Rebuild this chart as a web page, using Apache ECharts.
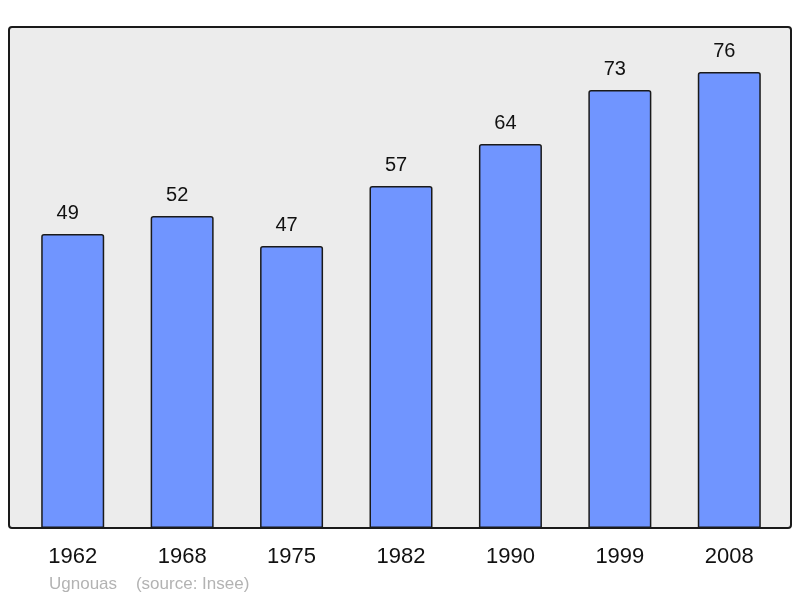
<!DOCTYPE html>
<html>
<head>
<meta charset="utf-8">
<script src="https://cdn.jsdelivr.net/npm/echarts@6/dist/echarts.min.js"></script>
<style>
  html, body { margin: 0; padding: 0; background: #fff; }
  #chart { width: 800px; height: 598px; }
</style>
</head>
<body>
<div id="chart"></div>
<script>
var years = ['1962', '1968', '1975', '1982', '1990', '1999', '2008'];
var population = [49, 52, 47, 57, 64, 73, 76];

var chart = echarts.init(document.getElementById('chart'));
var option = {
  animation: false,
  textStyle: { fontFamily: 'Liberation Sans, Arial, sans-serif' },
  graphic: [
    {
      type: 'rect',
      z: -10,
      shape: { x: 9, y: 27, width: 782, height: 501, r: 3 },
      style: { fill: '#ececec', stroke: '#1a1a1a', lineWidth: 2 }
    },
    {
      type: 'text',
      left: 49,
      top: 576,
      style: {
        text: 'Ugnouas    (source: Insee)',
        fill: '#b3b3b3',
        fontSize: 17,
        fontFamily: 'Liberation Sans, Arial, sans-serif'
      }
    }
  ],
  grid: { left: 18, right: 16, top: 27, bottom: 70 },
  xAxis: {
    type: 'category',
    data: years,
    axisLine: { show: false },
    axisTick: { show: false },
    axisLabel: { color: '#111', fontSize: 22, margin: 18 }
  },
  yAxis: {
    type: 'value',
    min: 0,
    max: 83.5,
    show: false,
    splitLine: { show: false }
  },
  series: [{
    type: 'bar',
    data: population,
    barWidth: 63,
    itemStyle: {
      color: '#7095ff',
      borderColor: '#1a1a1a',
      borderWidth: 1.5,
      borderRadius: [2, 2, 0, 0]
    },
    label: {
      show: true,
      position: 'top',
      distance: 11,
      offset: [-5, 0],
      color: '#111',
      fontSize: 20
    }
  }]
};
chart.setOption(option);
</script>
</body>
</html>
